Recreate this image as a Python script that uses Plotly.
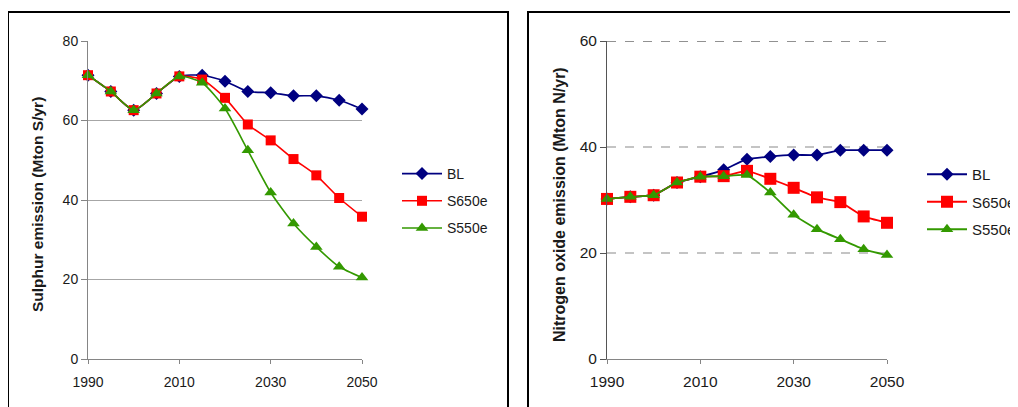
import plotly.graph_objects as go

years = [1990, 1995, 2000, 2005, 2010, 2015, 2020, 2025, 2030, 2035, 2040, 2045, 2050]

# Sulphur emission (Mton S/yr)
s_bl = [71.4, 67.3, 62.6, 66.8, 71.1, 71.4, 69.9, 67.3, 67.0, 66.2, 66.2, 65.1, 62.9]
s_650 = [71.4, 67.3, 62.6, 66.8, 71.1, 70.3, 65.7, 59.0, 55.0, 50.3, 46.2, 40.5, 35.8]
s_550 = [71.4, 67.3, 62.6, 66.8, 71.1, 69.5, 63.0, 52.5, 41.9, 34.1, 28.2, 23.2, 20.5]

# Nitrogen oxide emission (Mton N/yr)
n_bl = [30.2, 30.6, 30.9, 33.3, 34.4, 35.7, 37.7, 38.2, 38.5, 38.5, 39.4, 39.4, 39.4]
n_650 = [30.2, 30.6, 30.9, 33.3, 34.4, 34.5, 35.5, 34.0, 32.3, 30.5, 29.6, 26.9, 25.7]
n_550 = [30.2, 30.6, 30.9, 33.3, 34.4, 34.5, 34.7, 31.4, 27.2, 24.5, 22.6, 20.7, 19.6]

series_names = ["BL", "S650e", "S550e"]
colors = ["#000080", "#ff0000", "#339900"]
symbols = ["diamond", "square", "triangle-up"]

left_title = "<b>Sulphur emission (Mton S/yr)</b>"
right_title = "<b>Nitrogen oxide emission (Mton N/yr)</b>"
x_range = [1990, 2050]
x_ticks = [1990, 2010, 2030, 2050]
s_range = [0, 80]
n_range = [0, 60]

W, H = 1018, 407
OFF = 8  # page body margin offset
FONT = "Liberation Sans, Arial, sans-serif"

fig = go.Figure()

left_sizes = {"diamond": 10, "square": 10, "triangle-up": 11}
right_sizes = {"diamond": 10, "square": 12, "triangle-up": 11}

for vals, name, col, sym in zip([s_bl, s_650, s_550], series_names, colors, symbols):
    fig.add_trace(go.Scatter(
        x=years, y=vals, name=name, mode="lines+markers",
        line=dict(color=col, width=1.6, shape="spline", smoothing=0.6),
        marker=dict(symbol=sym, size=left_sizes[sym], color=col),
        xaxis="x", yaxis="y", cliponaxis=False,
        legend="legend", legendgroup="l" + name,
    ))

for vals, name, col, sym in zip([n_bl, n_650, n_550], series_names, colors, symbols):
    fig.add_trace(go.Scatter(
        x=years, y=vals, name=name, mode="lines+markers",
        line=dict(color=col, width=1.8, shape="spline", smoothing=0.4),
        marker=dict(symbol=sym, size=right_sizes[sym], color=col),
        xaxis="x2", yaxis="y2", cliponaxis=False,
        legend="legend2", legendgroup="r" + name,
    ))

def px(x):
    return (x - OFF) / W

def py(y):
    return 1 - (y - OFF) / H

axis_col = "#858585"

fig.update_layout(
    template="none",
    width=W, height=H, autosize=False,
    margin=dict(l=0, r=0, t=0, b=0, pad=0, autoexpand=False),
    paper_bgcolor="white", plot_bgcolor="white",
    font=dict(family=FONT, size=14, color="#1a1a1a"),
    xaxis=dict(domain=[px(88), px(362)], range=x_range, tickvals=x_ticks, automargin=False,
               showgrid=False, zeroline=False, showline=True, linecolor=axis_col, linewidth=1,
               ticks="outside", ticklen=4, tickcolor=axis_col, anchor="y",
               tickfont=dict(size=14), ticklabelstandoff=6),
    yaxis=dict(domain=[py(359), py(41)], range=s_range, dtick=20, automargin=False,
               showgrid=True, gridcolor="#a6a6a6", gridwidth=1, zeroline=False,
               showline=True, linecolor=axis_col, linewidth=1,
               ticks="outside", ticklen=6, tickcolor=axis_col, anchor="x",
               tickfont=dict(size=14)),
    xaxis2=dict(domain=[px(607), px(887)], range=x_range, tickvals=x_ticks, automargin=False,
                showgrid=False, zeroline=False, showline=True, linecolor=axis_col, linewidth=1,
                ticks="outside", ticklen=4, tickcolor=axis_col, anchor="y2",
                tickfont=dict(size=15.5), ticklabelstandoff=4),
    yaxis2=dict(domain=[py(359), py(41)], range=n_range, dtick=20, automargin=False,
                showgrid=True, gridcolor="#c4c4c4", gridwidth=1.5, griddash="dash",
                zeroline=False, showline=True, linecolor="#555555", linewidth=1,
                ticks="outside", ticklen=6, tickcolor="#555555", anchor="x2",
                tickfont=dict(size=15.5)),
    legend=dict(xref="container", yref="container", x=px(397), y=py(158),
                xanchor="left", yanchor="top",
                font=dict(size=14), bgcolor="rgba(0,0,0,0)", tracegroupgap=6,
                itemwidth=40),
    legend2=dict(xref="container", yref="container", x=px(922), y=py(158),
                 xanchor="left", yanchor="top",
                 font=dict(size=15), bgcolor="rgba(0,0,0,0)", tracegroupgap=5,
                 itemwidth=40),
    showlegend=True,
)

# axis titles
fig.add_annotation(text=left_title, xref="paper", yref="paper", x=px(37), y=py(205),
                   textangle=-90, showarrow=False, font=dict(size=15.5, family=FONT, color="#1a1a1a"),
                   xanchor="center", yanchor="middle")
fig.add_annotation(text=right_title, xref="paper", yref="paper", x=px(559), y=py(205),
                   textangle=-90, showarrow=False, font=dict(size=16, family=FONT, color="#1a1a1a"),
                   xanchor="center", yanchor="middle")

# darker dashed top gridline on the right panel
fig.add_shape(type="line", xref="x2 domain", yref="y2", x0=0, x1=1, y0=n_range[1], y1=n_range[1],
              line=dict(color="#6e6e6e", width=1.5, dash="dash"))

# panel borders
fig.add_shape(type="rect", xref="paper", yref="paper", x0=px(8), x1=px(508), y0=-0.2, y1=py(12),
              line=dict(color="black", width=2), fillcolor="rgba(0,0,0,0)", layer="above")
fig.add_shape(type="rect", xref="paper", yref="paper", x0=px(528), x1=1.2, y0=-0.2, y1=py(12),
              line=dict(color="black", width=2), fillcolor="rgba(0,0,0,0)", layer="above")

fig.write_html("out.html")
